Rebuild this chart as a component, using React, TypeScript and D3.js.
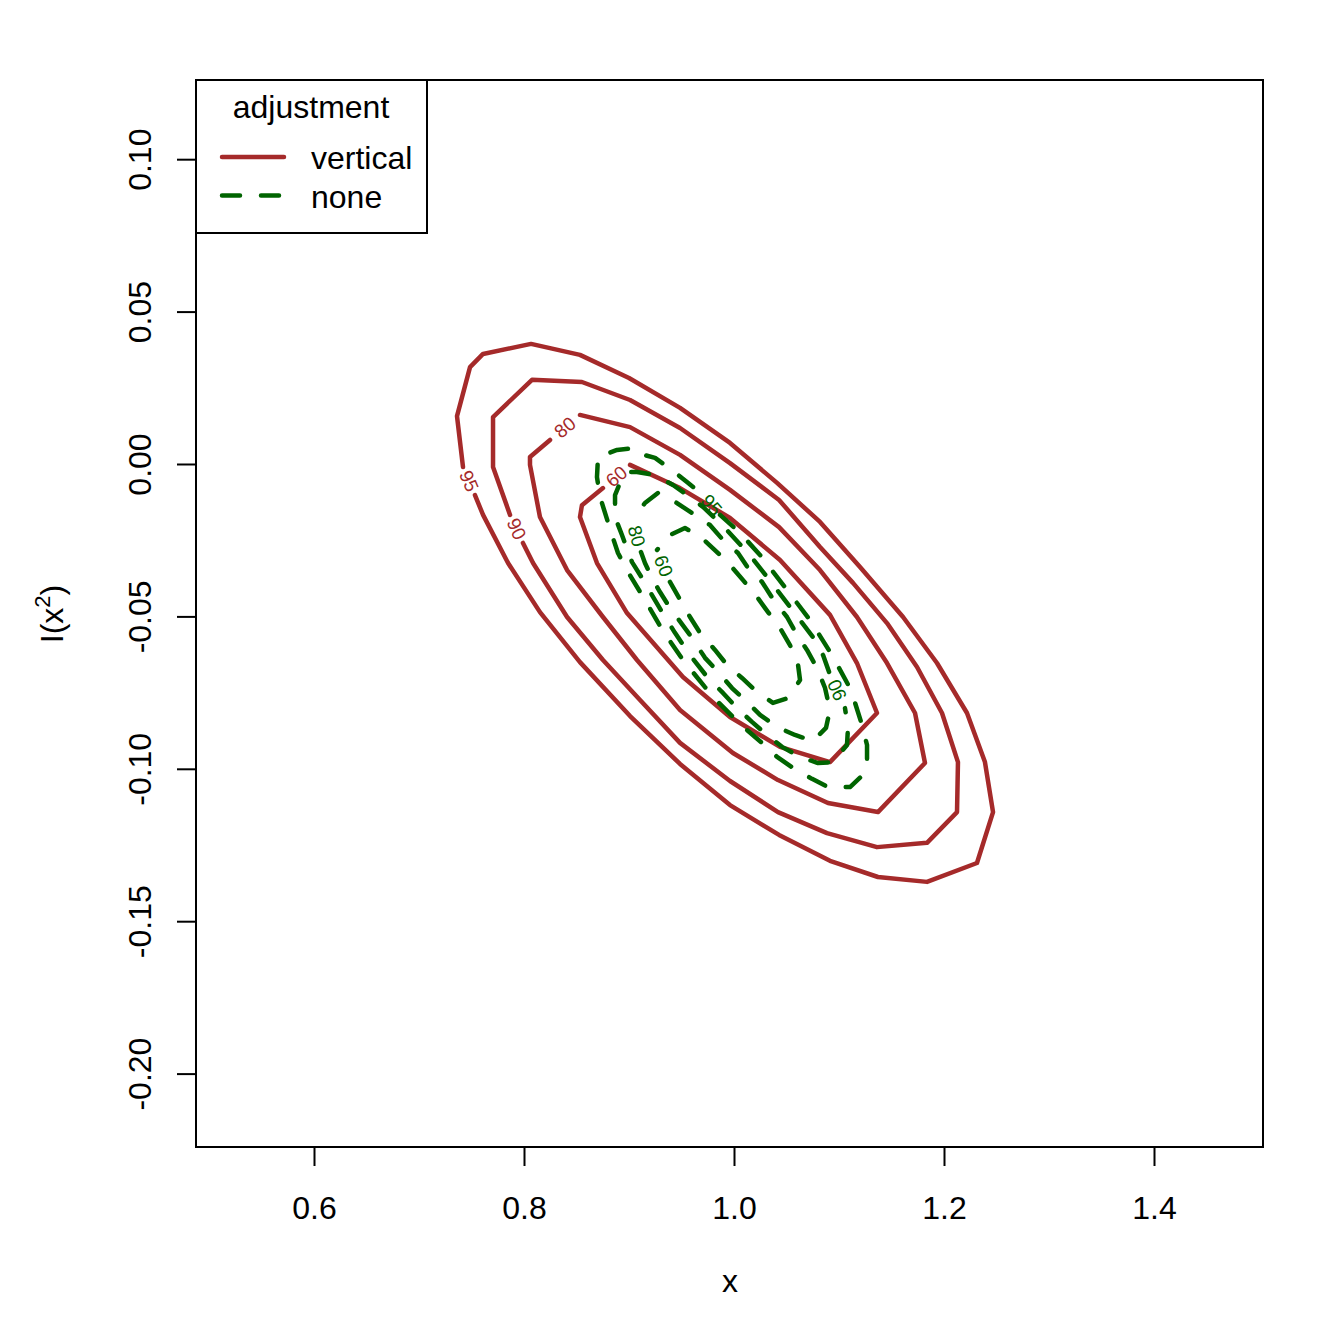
// contour chart: vertical vs none adjustment
import React, { useRef, useEffect } from 'react';
import * as d3 from 'd3';

type Pt = [number, number];

// each contour is an open polyline; the gap between last and first point holds the label
const vertical95: Pt[] = [
  [0.7533, -0.0102], [0.7610, -0.0167], [0.7848, -0.0325], [0.8152, -0.0486], [0.8533, -0.0650],
  [0.9010, -0.0827], [0.9486, -0.0984], [0.9962, -0.1119], [1.0429, -0.1217], [1.0914, -0.1302],
  [1.1371, -0.1355], [1.1838, -0.1371], [1.2314, -0.1309], [1.2467, -0.1142], [1.2390, -0.0978],
  [1.2219, -0.0817], [1.1933, -0.0653], [1.1610, -0.0502], [1.1200, -0.0338], [1.0819, -0.0190],
  [1.0410, -0.0062], [0.9962, 0.0069], [0.9486, 0.0184], [0.9000, 0.0282], [0.8533, 0.0358],
  [0.8067, 0.0394], [0.7610, 0.0361], [0.7486, 0.0318], [0.7362, 0.0157], [0.7419, -0.0010],
];
const vertical90: Pt[] = [
  [0.7990, -0.0259], [0.8086, -0.0325], [0.8410, -0.0502], [0.8752, -0.0643], [0.9105, -0.0774],
  [0.9486, -0.0915], [0.9962, -0.1040], [1.0419, -0.1142], [1.0886, -0.1211], [1.1362, -0.1257],
  [1.1838, -0.1243], [1.2124, -0.1142], [1.2133, -0.0978], [1.1981, -0.0817], [1.1743, -0.0666],
  [1.1457, -0.0522], [1.1133, -0.0390], [1.0819, -0.0272], [1.0429, -0.0118], [0.9962, 0.0003],
  [0.9486, 0.0118], [0.9010, 0.0210], [0.8552, 0.0269], [0.8076, 0.0276], [0.7705, 0.0154],
  [0.7705, -0.0010], [0.7867, -0.0167],
];
const vertical80: Pt[] = [
  [0.8533, 0.0161], [0.9010, 0.0121], [0.9486, 0.0030], [0.9962, -0.0085], [1.0429, -0.0207],
  [1.0819, -0.0348], [1.1171, -0.0502], [1.1457, -0.0653], [1.1724, -0.0817], [1.1819, -0.0981],
  [1.1371, -0.1142], [1.0895, -0.1112], [1.0419, -0.1037], [0.9990, -0.0948], [0.9486, -0.0807],
  [0.9076, -0.0643], [0.8752, -0.0502], [0.8410, -0.0348], [0.8152, -0.0174], [0.8057, -0.0003],
  [0.8057, 0.0023], [0.8248, 0.0079],
];
const vertical60: Pt[] = [
  [0.9010, -0.0003], [0.9486, -0.0079], [0.9962, -0.0177], [1.0438, -0.0315], [1.0914, -0.0495],
  [1.1171, -0.0653], [1.1362, -0.0817], [1.0914, -0.0978], [1.0438, -0.0928], [0.9962, -0.0830],
  [0.9514, -0.0699], [0.8981, -0.0489], [0.8695, -0.0325], [0.8533, -0.0174], [0.8552, -0.0135],
  [0.8752, -0.0079],
];

const none95: Pt[] = [
  [0.9867, -0.0167], [1.0057, -0.0226], [1.0257, -0.0302], [1.0505, -0.0413], [1.0724, -0.0512],
  [1.0933, -0.0627], [1.1114, -0.0741], [1.1219, -0.0856], [1.1267, -0.0922], [1.1267, -0.0988],
  [1.1229, -0.1020], [1.1105, -0.1060], [1.0895, -0.1060], [1.0743, -0.1033], [1.0562, -0.0997],
  [1.0410, -0.0961], [1.0267, -0.0915], [1.0124, -0.0873], [0.9990, -0.0830], [0.9848, -0.0781],
  [0.9724, -0.0732], [0.9514, -0.0643], [0.9324, -0.0548], [0.9152, -0.0446], [0.8990, -0.0354],
  [0.8895, -0.0292], [0.8838, -0.0233], [0.8724, -0.0108], [0.8695, -0.0043], [0.8705, 0.0023],
  [0.8886, 0.0046], [0.9038, 0.0052], [0.9076, 0.0036], [0.9248, 0.0020], [0.9410, -0.0020],
  [0.9552, -0.0059], [0.9705, -0.0102],
];
const none90: Pt[] = [
  [1.0905, -0.0682], [1.0848, -0.0627], [1.0771, -0.0577], [1.0629, -0.0512], [1.0410, -0.0413],
  [1.0152, -0.0299], [0.9914, -0.0210], [0.9705, -0.0141], [0.9581, -0.0108], [0.9419, -0.0069],
  [0.9248, -0.0036], [0.9076, -0.0026], [0.8990, -0.0026], [0.8933, -0.0046], [0.8867, -0.0102],
  [0.8867, -0.0174], [0.8933, -0.0233], [0.9029, -0.0322], [0.9124, -0.0374], [0.9219, -0.0430],
  [0.9343, -0.0502], [0.9438, -0.0554], [0.9581, -0.0627], [0.9752, -0.0702], [0.9895, -0.0751],
  [1.0029, -0.0801], [1.0171, -0.0846], [1.0314, -0.0889], [1.0457, -0.0928], [1.0629, -0.0961],
  [1.0800, -0.0981], [1.0943, -0.0978], [1.1076, -0.0922], [1.1086, -0.0863], [1.1057, -0.0801],
];
const none80: Pt[] = [
  [0.9114, -0.0289], [0.9152, -0.0325], [0.9229, -0.0381], [0.9295, -0.0420], [0.9390, -0.0472],
  [0.9581, -0.0561], [0.9724, -0.0636], [0.9848, -0.0682], [0.9981, -0.0735], [1.0124, -0.0781],
  [1.0248, -0.0823], [1.0410, -0.0863], [1.0581, -0.0889], [1.0752, -0.0909], [1.0876, -0.0866],
  [1.0914, -0.0807], [1.0867, -0.0735], [1.0790, -0.0669], [1.0695, -0.0610], [1.0600, -0.0561],
  [1.0505, -0.0502], [1.0390, -0.0453], [1.0267, -0.0387], [1.0133, -0.0341], [1.0038, -0.0292],
  [0.9895, -0.0249], [0.9771, -0.0200], [0.9600, -0.0161], [0.9457, -0.0128], [0.9276, -0.0095],
  [0.9152, -0.0128], [0.9029, -0.0184],
];
const none60: Pt[] = [
  [0.9390, -0.0387], [0.9581, -0.0502], [0.9676, -0.0554], [0.9819, -0.0610], [0.9933, -0.0659],
  [1.0076, -0.0702], [1.0219, -0.0748], [1.0371, -0.0784], [1.0514, -0.0768], [1.0629, -0.0709],
  [1.0610, -0.0659], [1.0533, -0.0594], [1.0438, -0.0538], [1.0324, -0.0486], [1.0219, -0.0436],
  [1.0086, -0.0381], [0.9962, -0.0331], [0.9838, -0.0289], [0.9695, -0.0243], [0.9533, -0.0210],
  [0.9390, -0.0233], [0.9267, -0.0282],
];

const levels = ['95', '90', '80', '60'];
const seriesNames = ['vertical', 'none'];
const seriesColors = ['#A52A2A', '#006400'];
const seriesContours = [
  [vertical95, vertical90, vertical80, vertical60],
  [none95, none90, none80, none60],
];

const xTicks = [0.6, 0.8, 1.0, 1.2, 1.4];
const yTicks = [0.1, 0.05, 0, -0.05, -0.1, -0.15, -0.2];

const width = 1344;
const height = 1344;
const left = 196;
const right = 1263;
const top = 80;
const bottom = 1147;
const font = '"Liberation Sans", Arial, Helvetica, sans-serif';

const App: React.FC = () => {
  const svgRef = useRef<SVGSVGElement>(null);

  useEffect(() => {
    if (!svgRef.current) return;
    const svg = d3.select(svgRef.current);
    svg.selectAll('*').remove();

    const x = d3.scaleLinear().domain([0.48762, 1.50381]).range([left, right]);
    const y = d3.scaleLinear().domain([0.12598, -0.22408]).range([top, bottom]);

    const line = d3.line<Pt>()
      .x((d) => x(d[0]))
      .y((d) => y(d[1]));

    // contours, vertical first then none on top
    seriesContours.forEach((contours, si) => {
      const g = svg.append('g');
      contours.forEach((pts, li) => {
        g.append('path')
          .attr('d', line(pts))
          .attr('fill', 'none')
          .attr('stroke', seriesColors[si])
          .attr('stroke-width', 4.5)
          .attr('stroke-linejoin', 'round')
          .attr('stroke-linecap', 'round')
          .attr('stroke-dasharray', si === 1 ? '18 21' : null);

        // label in the gap
        const a = pts[pts.length - 1];
        const b = pts[0];
        const ax = x(a[0]), ay = y(a[1]), bx = x(b[0]), by = y(b[1]);
        const ang = (Math.atan2(by - ay, bx - ax) * 180) / Math.PI;
        g.append('text')
          .attr('transform', `translate(${(ax + bx) / 2},${(ay + by) / 2}) rotate(${ang})`)
          .attr('text-anchor', 'middle')
          .attr('dominant-baseline', 'central')
          .attr('font-family', font)
          .attr('font-size', 19)
          .attr('fill', seriesColors[si])
          .text(levels[li]);
      });
    });

    // plot box
    svg.append('rect')
      .attr('x', left).attr('y', top)
      .attr('width', right - left).attr('height', bottom - top)
      .attr('fill', 'none').attr('stroke', '#000').attr('stroke-width', 2);

    // x axis
    const gx = svg.append('g')
      .attr('transform', `translate(0,${bottom})`)
      .call(d3.axisBottom(x).tickValues(xTicks).tickSize(19).tickPadding(30).tickFormat((d) => (+d).toFixed(1)));
    gx.select('.domain').remove();
    gx.selectAll('line').attr('stroke', '#000').attr('stroke-width', 2);
    gx.selectAll('text').attr('font-size', 32).attr('font-family', font).attr('fill', '#000');

    // y axis
    const gy = svg.append('g')
      .attr('transform', `translate(${left},0)`)
      .call(d3.axisLeft(y).tickValues(yTicks).tickSize(19).tickFormat((d) => (+d).toFixed(2)));
    gy.select('.domain').remove();
    gy.selectAll('line').attr('stroke', '#000').attr('stroke-width', 2);
    gy.selectAll('text')
      .attr('x', null).attr('dy', null).attr('y', null)
      .attr('transform', 'translate(-45,0) rotate(-90)')
      .attr('text-anchor', 'middle')
      .attr('font-size', 32).attr('font-family', font).attr('fill', '#000');

    // axis titles
    svg.append('text')
      .attr('x', 730).attr('y', 1292)
      .attr('text-anchor', 'middle')
      .attr('font-size', 32).attr('font-family', font)
      .text('x');

    const yt = svg.append('text')
      .attr('transform', 'translate(63,614) rotate(-90)')
      .attr('text-anchor', 'middle')
      .attr('font-size', 32).attr('font-family', font);
    yt.append('tspan').text('I(x');
    yt.append('tspan').attr('font-size', 22).attr('dy', -13).text('2');
    yt.append('tspan').attr('dy', 13).text(')');

    // legend
    const lg = svg.append('g');
    lg.append('rect')
      .attr('x', 196).attr('y', 80).attr('width', 231).attr('height', 153)
      .attr('fill', '#fff').attr('stroke', '#000').attr('stroke-width', 2);
    lg.append('text')
      .attr('x', 311).attr('y', 118)
      .attr('text-anchor', 'middle')
      .attr('font-size', 32).attr('font-family', font)
      .text('adjustment');
    seriesNames.forEach((name, i) => {
      const ly = 157 + i * 38.5;
      lg.append('line')
        .attr('x1', 222).attr('x2', 284).attr('y1', ly).attr('y2', ly)
        .attr('stroke', seriesColors[i]).attr('stroke-width', 4.5)
        .attr('stroke-linecap', 'round')
        .attr('stroke-dasharray', i === 1 ? '18 21' : null);
      lg.append('text')
        .attr('x', 311).attr('y', ly + 12)
        .attr('font-size', 32).attr('font-family', font)
        .text(name);
    });
  }, []);

  return (
    <svg
      ref={svgRef}
      width={width}
      height={height}
      style={{ position: 'absolute', left: 0, top: 0, background: '#fff' }}
    />
  );
};

export default App;
